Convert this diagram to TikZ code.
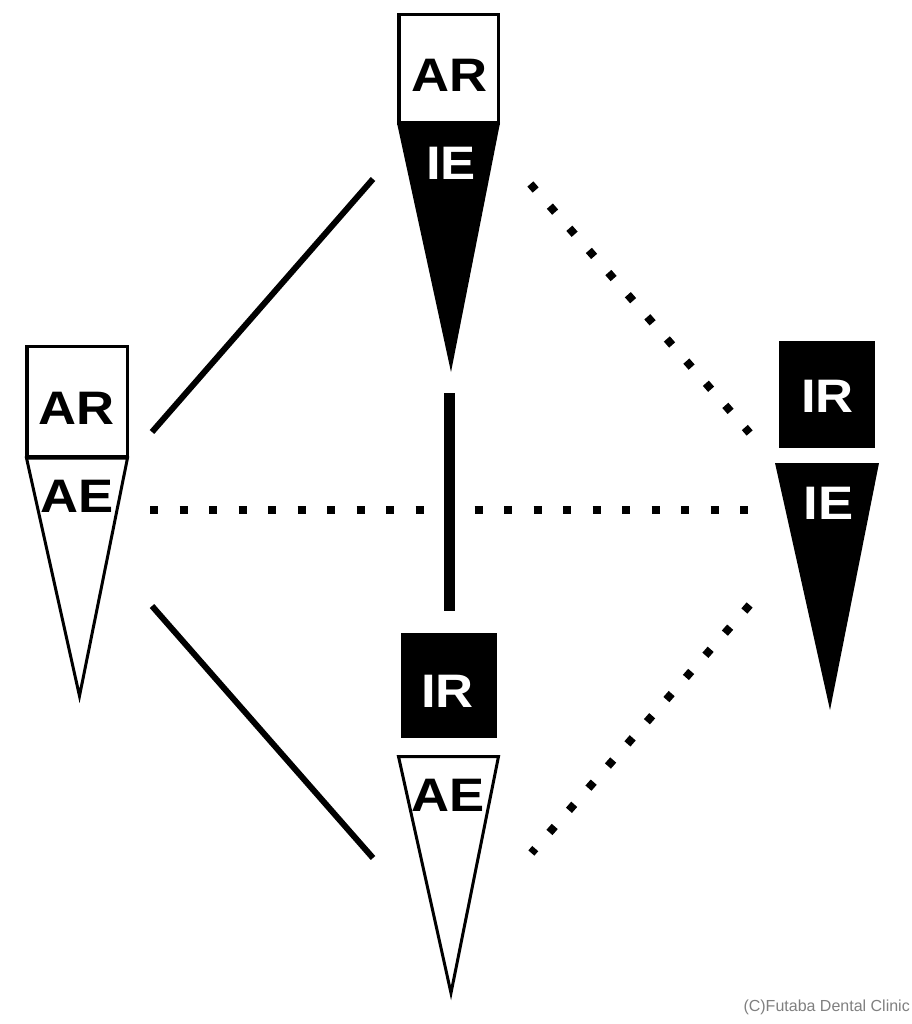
\documentclass[tikz,border=0pt]{standalone}
\usepackage{fontspec}
\setmainfont{Liberation Sans}
\newfontfamily\lblfont{Liberation Sans}[FakeStretch=1.12]
\usetikzlibrary{calc}
\begin{document}
\begin{tikzpicture}[x=1pt,y=-1pt,
  lbl/.style={font=\lblfont\fontsize{47}{47}\selectfont\bfseries, inner sep=0pt, text height=34pt, text depth=0pt},
  wlbl/.style={lbl, text=white},
  openbox/.style={draw=black, fill=white, line width=3.5pt, inner sep=0pt},
  darkbox/.style={fill=black, inner sep=0pt},
  opentri/.style={draw=black, fill=white, line width=3pt, line join=miter},
  darktri/.style={fill=black},
  solidline/.style={line width=6pt},
  thickline/.style={line width=11pt},
  dotline/.style={line width=8pt, dash pattern=on 8pt off 21.5pt, shorten <=-4pt, shorten >=-4pt},
  credit/.style={font=\fontsize{16}{16}\selectfont, text=black!50, inner sep=0pt, anchor=east}
]
\fill[white] (0,0) rectangle (911,1024);
\useasboundingbox (0,0) rectangle (911,1024);

% ---------- top figure: AR / IE ----------
\coordinate (Ttl) at (397,123);
\coordinate (Ttr) at (500,123);
\coordinate (Ttip) at (451,372);
\fill[darktri] (Ttl) -- (Ttr) -- (Ttip) -- cycle;
\node[openbox, minimum width=99.5pt, minimum height=108.5pt] (Tbox) at (448.5,69) {};
\node[lbl] (TAR) at (449.5,75) {AR};
\node[wlbl] (TIE) at (451,162.5) {IE};

% ---------- left figure: AR / AE ----------
\coordinate (Ltl) at (26.5,458);
\coordinate (Ltr) at (127.5,458);
\coordinate (Ltip) at (79.5,696);
\draw[opentri] (Ltl) -- (Ltr) -- (Ltip) -- cycle;
\node[openbox, minimum width=100.5pt, minimum height=110pt] (Lbox) at (77,401.5) {};
\node[lbl] (LAR) at (77,407) {AR};
\node[lbl] (LAE) at (77.5,495) {AE};

% ---------- right figure: IR / IE ----------
\node[darkbox, minimum width=96pt, minimum height=107pt] (Rbox) at (827,394.5) {};
\coordinate (Rtl) at (775,463);
\coordinate (Rtr) at (879,463);
\coordinate (Rtip) at (830,710);
\fill[darktri] (Rtl) -- (Rtr) -- (Rtip) -- cycle;
\node[wlbl] (RIR) at (827.5,395.5) {IR};
\node[wlbl] (RIE) at (828.5,502.5) {IE};

% ---------- bottom figure: IR / AE ----------
\node[darkbox, minimum width=96pt, minimum height=105pt] (Bbox) at (449,685.5) {};
\coordinate (Btl) at (398.5,756.5);
\coordinate (Btr) at (498.5,756.5);
\coordinate (Btip) at (451,993);
\draw[opentri] (Btl) -- (Btr) -- (Btip) -- cycle;
\node[wlbl] (BIR) at (447.5,690) {IR};
\node[lbl] (BAE) at (448.5,794.5) {AE};

% ---------- connectors ----------
\coordinate (c1a) at (152,432); \coordinate (c1b) at (373,179);
\coordinate (c2a) at (152,606); \coordinate (c2b) at (373,858);
\coordinate (hA) at (154,510);  \coordinate (hB) at (745,510);
\coordinate (d1a) at (533,187); \coordinate (d1b) at (747,430);
\coordinate (d2a) at (747,608); \coordinate (d2b) at (534,850);
\coordinate (vA) at (449,393);  \coordinate (vB) at (449,611);

\draw[solidline] (c1a) -- (c1b);
\draw[solidline] (c2a) -- (c2b);
\draw[dotline] (hA) -- (hB);
\draw[dotline] (d1a) -- (d1b);
\draw[dotline] (d2a) -- (d2b);
\draw[thickline] (vA) -- (vB);

% ---------- credit ----------
\node[credit] (cr) at (910,1007) {(C)Futaba Dental Clinic};
\end{tikzpicture}
\end{document}
